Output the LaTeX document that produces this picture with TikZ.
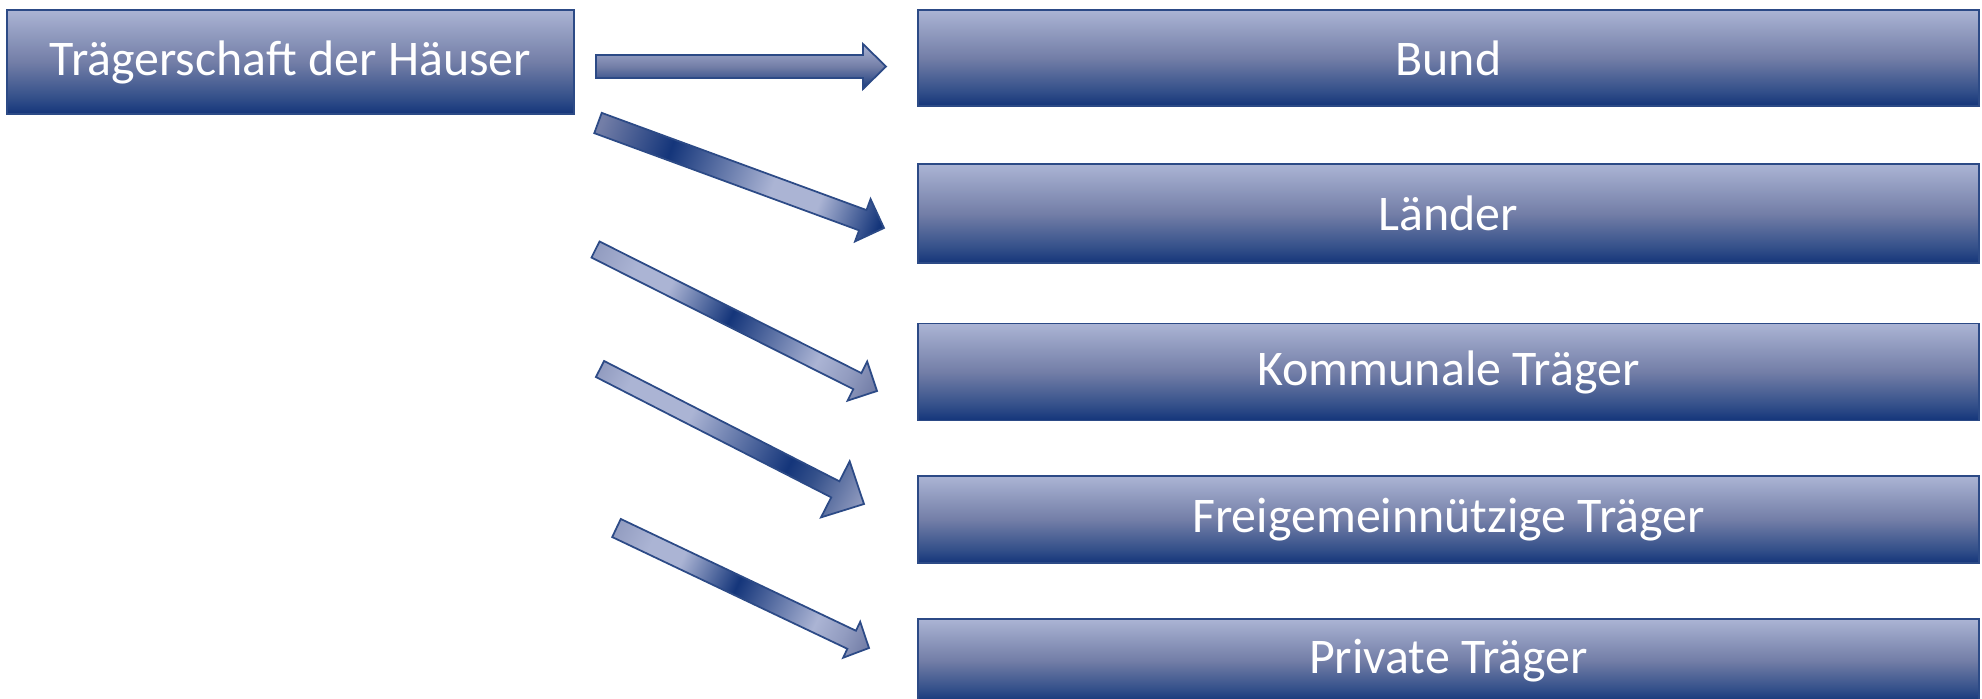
\documentclass[tikz,border=0pt]{standalone}
\usepackage{fontspec}
\setmainfont{Carlito}
\usetikzlibrary{positioning,calc}

\definecolor{paleblue}{HTML}{ABB4D4}
\definecolor{softblue}{HTML}{929CC0}
\definecolor{midblue}{HTML}{737EA7}
\definecolor{deepblue}{HTML}{34508A}
\definecolor{navy}{HTML}{14357A}
\definecolor{rimblue}{HTML}{2C4A86}

\pgfdeclareverticalshading{boxfade}{100bp}{color(0bp)=(navy); color(25bp)=(navy); color(33bp)=(deepblue); color(50bp)=(midblue); color(64bp)=(softblue); color(75bp)=(paleblue); color(100bp)=(paleblue)}
\pgfdeclarehorizontalshading{sweepb}{100bp}{color(0bp)=(midblue); color(20bp)=(midblue); color(35bp)=(navy); color(57bp)=(paleblue); color(67bp)=(paleblue); color(80bp)=(navy); color(100bp)=(navy)}
\pgfdeclarehorizontalshading{sweepc}{100bp}{color(0bp)=(softblue); color(18bp)=(softblue); color(27bp)=(paleblue); color(35bp)=(paleblue); color(49bp)=(navy); color(69bp)=(paleblue); color(76bp)=(softblue); color(82bp)=(midblue); color(100bp)=(midblue)}
\pgfdeclarehorizontalshading{sweepd}{100bp}{color(0bp)=(softblue); color(18bp)=(softblue); color(25bp)=(paleblue); color(40bp)=(paleblue); color(64bp)=(navy); color(70bp)=(deepblue); color(82bp)=(softblue); color(100bp)=(softblue)}

% block arrow: style, tail, tip, half body, half head, head length
\newcommand{\blockarrow}[6]{%
  \coordinate (hb) at ($(#3)!#6!(#2)$);
  \path[#1] ($(#2)!#4!90:(#3)$) -- ($(hb)!#4!90:(#3)$) -- ($(hb)!#5!90:(#3)$) -- (#3)
    -- ($(hb)!#5!-90:(#3)$) -- ($(hb)!#4!-90:(#3)$) -- ($(#2)!#4!-90:(#3)$) -- cycle;
}

\begin{document}
\begin{tikzpicture}[
    font=\fontsize{14.2pt}{16pt}\selectfont,
    box/.style={
        shade,
        shading=boxfade,
        draw=rimblue,
        line width=0.5pt,
        text=white,
        inner sep=0pt,
        minimum width=10.61cm,
        align=center
    },
    flow/.style={shade, draw=rimblue, line width=0.5pt, line join=miter}
]
\useasboundingbox (0,0) rectangle (19.82,-6.98);

\node[box, minimum width=5.67cm, minimum height=1.04cm] (haeuser) at (2.905,-0.62) {Trägerschaft der Häuser};

\node[box, minimum height=0.96cm] (bund) at (14.485,-0.58) {Bund};
\node[box, minimum height=0.99cm, below=0.565cm of bund] (laender) {Länder};
\node[box, minimum height=0.97cm, below=0.585cm of laender] (kommunal) {Kommunale Träger};
\node[box, minimum height=0.87cm, below=0.54cm of kommunal] (frei) {Freigemeinnützige Träger};
\node[box, minimum height=0.83cm, below=0.54cm of frei] (privat) {Private Träger};

% Pfeile
\coordinate (from1) at (5.96,-0.665);  \coordinate (to1) at (8.86,-0.665);
\coordinate (from2) at (5.98,-1.23);   \coordinate (to2) at (8.84,-2.28);
\coordinate (from3) at (5.955,-2.495); \coordinate (to3) at (8.77,-3.91);
\coordinate (from4) at (6.00,-3.69);   \coordinate (to4) at (8.64,-5.04);
\coordinate (from5) at (6.165,-5.28);  \coordinate (to5) at (8.69,-6.48);

\blockarrow{flow, shading=boxfade}{from1}{to1}{0.115cm}{0.225cm}{0.23cm}
\blockarrow{flow, shading=sweepb, shading angle=-20.2}{from2}{to2}{0.108cm}{0.226cm}{0.226cm}
\blockarrow{flow, shading=sweepc, shading angle=-26.7}{from3}{to3}{0.09cm}{0.219cm}{0.22cm}
\blockarrow{flow, shading=sweepd, shading angle=-27.1}{from4}{to4}{0.09cm}{0.315cm}{0.322cm}
\blockarrow{flow, shading=sweepc, shading angle=-25.4}{from5}{to5}{0.10cm}{0.199cm}{0.192cm}

\end{tikzpicture}
\end{document}
